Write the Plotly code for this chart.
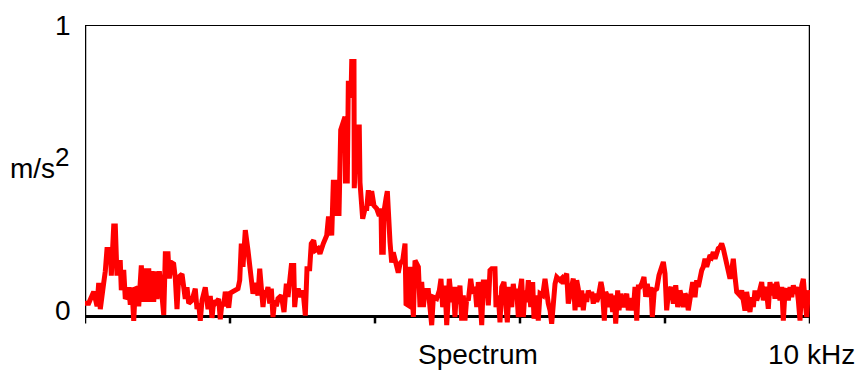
import plotly.graph_objects as go

# Frequency (kHz) and acceleration amplitude (m/s^2)
freq_khz = [
    0.000, 0.051, 0.120, 0.166, 0.189, 0.211, 0.258, 0.280, 0.303, 0.349,
    0.363, 0.396, 0.418, 0.428, 0.441, 0.455, 0.487, 0.501, 0.534, 0.556,
    0.579, 0.603, 0.625, 0.648, 0.672, 0.694, 0.717, 0.741, 0.777, 0.800,
    0.832, 0.855, 0.879, 0.901, 0.924, 0.948, 0.970, 0.993, 1.025, 1.062,
    1.086, 1.108, 1.145, 1.163, 1.190, 1.223, 1.246, 1.269, 1.292, 1.338,
    1.361, 1.383, 1.407, 1.430, 1.476, 1.521, 1.545, 1.568, 1.590, 1.614,
    1.659, 1.697, 1.728, 1.752, 1.775, 1.797, 1.844, 1.866, 1.890, 1.913,
    1.935, 1.982, 2.004,
    2.063, 2.110, 2.134, 2.156, 2.179, 2.211, 2.248, 2.272, 2.294, 2.317,
    2.349, 2.386, 2.410, 2.432, 2.455, 2.479, 2.501, 2.524, 2.548, 2.570,
    2.593, 2.617, 2.639, 2.662, 2.708, 2.745, 2.777, 2.800, 2.823, 2.846,
    2.879, 2.892, 2.914, 2.948, 2.975, 3.007, 3.039, 3.062, 3.099, 3.121,
    3.154, 3.177, 3.214,
    3.241, 3.287, 3.334, 3.356, 3.379, 3.403, 3.425, 3.448, 3.462, 3.480,
    3.503, 3.527, 3.554, 3.586, 3.593, 3.618, 3.632, 3.655, 3.669, 3.679,
    3.710, 3.714, 3.748, 3.783, 3.793, 3.817, 3.830, 3.862, 3.886, 3.908,
    3.931, 3.954, 3.986, 4.023, 4.059, 4.083, 4.092, 4.114, 4.124, 4.152,
    4.170, 4.207, 4.230, 4.252, 4.290, 4.321,
    4.345, 4.382, 4.414, 4.428, 4.460, 4.483, 4.506, 4.529, 4.552, 4.598,
    4.621, 4.644, 4.667, 4.690, 4.736, 4.759, 4.782, 4.805, 4.851, 4.887,
    4.910, 4.933, 4.966, 4.989, 5.025, 5.057, 5.080, 5.103, 5.126, 5.149,
    5.172, 5.196, 5.218, 5.241, 5.265, 5.287, 5.320, 5.347, 5.379, 5.403,
    5.425, 5.448, 5.472, 5.494, 5.541, 5.563, 5.586, 5.610, 5.655, 5.669,
    5.701, 5.724, 5.748, 5.779, 5.807, 5.825, 5.852, 5.886, 5.907, 5.931,
    5.954, 5.977, 6.000, 6.023, 6.046, 6.069, 6.092, 6.115, 6.148, 6.175,
    6.193, 6.230, 6.252, 6.276, 6.313, 6.345,
    6.390, 6.414, 6.437, 6.459, 6.483, 6.506, 6.552, 6.575, 6.597, 6.621,
    6.644, 6.666, 6.690, 6.713, 6.735, 6.759, 6.782, 6.804, 6.828, 6.851,
    6.873, 6.897, 6.920, 6.942, 6.966, 6.989, 7.011, 7.034, 7.058, 7.080,
    7.117, 7.135, 7.163, 7.182, 7.209, 7.228, 7.251, 7.278, 7.301, 7.320,
    7.347, 7.366, 7.393, 7.425, 7.448, 7.472, 7.494, 7.517, 7.541, 7.563,
    7.586, 7.610, 7.632, 7.655, 7.679, 7.710, 7.734, 7.756, 7.779, 7.807,
    7.825, 7.852, 7.886, 7.917, 7.954, 7.977, 8.000, 8.023, 8.046, 8.083,
    8.115, 8.148, 8.175, 8.207, 8.230, 8.252, 8.276, 8.299, 8.321, 8.354,
    8.382,
    8.414, 8.437, 8.459, 8.483, 8.506, 8.528, 8.552, 8.575, 8.597, 8.621,
    8.644, 8.666, 8.690, 8.713, 8.735, 8.759, 8.782, 8.804, 8.828, 8.851,
    8.873, 8.897, 8.920, 8.942, 8.966, 8.989, 9.034, 9.058, 9.080, 9.103,
    9.126, 9.149, 9.172, 9.196, 9.218, 9.241, 9.265, 9.301, 9.334, 9.356,
    9.379, 9.403, 9.425, 9.448, 9.472, 9.494, 9.517, 9.541, 9.563, 9.586,
    9.610, 9.632, 9.655, 9.679, 9.701, 9.724, 9.748, 9.770, 9.793, 9.817,
    9.839, 9.862, 9.886, 9.908, 9.931, 9.954, 9.977, 10.000,
]

accel = [
    0.045, 0.045, 0.085, 0.035, 0.115, 0.025, 0.115, 0.155, 0.230, 0.230,
    0.140, 0.310, 0.310, 0.190, 0.140, 0.185, 0.185, 0.090, 0.160, 0.060,
    0.070, 0.100, 0.040, 0.100, -0.015, 0.100, 0.095, 0.035, 0.175, 0.050,
    0.165, 0.050, 0.165, 0.050, 0.155, 0.050, 0.155, 0.060, 0.155, 0.070,
    0.005, 0.215, 0.215, 0.130, 0.185, 0.180, 0.130, 0.025, 0.135, 0.145,
    0.090, 0.060, 0.100, 0.045, 0.055, 0.095, 0.025, 0.045, -0.015, 0.055,
    0.100, 0.025, 0.070, -0.005, 0.055, 0.045, 0.060, -0.010, 0.050, 0.035,
    0.085, 0.030, 0.080,
    0.090, 0.095, 0.124, 0.250, 0.170, 0.296, 0.227, 0.170, 0.147, 0.078,
    0.115, 0.072, 0.164, 0.089, 0.032, 0.089, 0.078, 0.101, 0.044, 0.095,
    -0.002, 0.055, 0.035, 0.061, 0.072, 0.015, 0.112, 0.067, 0.135, 0.175,
    0.175, 0.032, 0.089, 0.089, 0.067, 0.089, 0.003, 0.164, 0.164, 0.250,
    0.261, 0.227, 0.233,
    0.215, 0.250, 0.278, 0.335, 0.335, 0.278, 0.460, 0.460, 0.345, 0.415,
    0.345, 0.640, 0.660, 0.685, 0.465, 0.465, 0.800, 0.800, 0.750, 0.875,
    0.875, 0.440, 0.650, 0.650, 0.460, 0.390, 0.335, 0.370, 0.370, 0.433,
    0.380, 0.430, 0.380, 0.370, 0.345, 0.370, 0.220, 0.220, 0.360, 0.405,
    0.430, 0.255, 0.185, 0.220, 0.185, 0.150,
    0.181, 0.192, 0.250, 0.043, 0.038, 0.170, 0.124, -0.002, 0.192, 0.170,
    0.032, 0.118, 0.032, 0.089, 0.089, 0.021, -0.030, 0.066, 0.061, 0.089,
    0.129, 0.032, 0.106, -0.030, 0.129, 0.049, 0.101, -0.002, 0.101, 0.043,
    0.106, -0.014, 0.072, -0.014, 0.061, 0.055, 0.129, 0.078, 0.101, 0.032,
    0.118, 0.066, -0.030, 0.118, 0.118, 0.038, 0.158, 0.164, 0.164, 0.032,
    0.072, -0.020, 0.101, 0.118, 0.055, -0.020, 0.101, 0.032, 0.112, 0.061,
    0.095, -0.002, 0.089, 0.129, -0.002, 0.089, 0.049, 0.124, 0.032, 0.118,
    -0.008, 0.072, -0.014, 0.078, 0.072, 0.129,
    0.044, 0.021, -0.025, 0.067, 0.112, 0.135, 0.124, 0.130, 0.112, 0.135,
    0.147, 0.044, 0.078, 0.112, 0.130, 0.021, 0.124, 0.095, 0.032, 0.089,
    0.021, 0.078, 0.050, 0.089, 0.067, 0.084, 0.044, 0.078, 0.050, 0.067,
    0.118, 0.095, -0.014, 0.084, 0.067, 0.032, 0.078, 0.015, 0.072, -0.025,
    0.089, 0.021, 0.078, 0.032, 0.067, 0.078, 0.021, 0.061, 0.050, 0.021,
    0.101, -0.014, 0.101, 0.101, 0.112, 0.135, 0.067, 0.112, 0.067, 0.101,
    -0.002, 0.089, 0.095, 0.141, 0.170, 0.187, 0.147, 0.021, 0.078, 0.101,
    0.044, 0.107, 0.032, 0.089, 0.067, 0.032, 0.078, 0.067, 0.021, 0.078,
    0.118,
    0.066, 0.124, 0.101, 0.141, 0.158, 0.170, 0.198, 0.170, 0.187, 0.210,
    0.204, 0.221, 0.198, 0.227, 0.233, 0.238, 0.250, 0.233, 0.210, 0.181,
    0.158, 0.129, 0.158, 0.198, 0.135, 0.084, 0.072, 0.089, 0.055, 0.020,
    0.084, 0.049, 0.015, 0.066, 0.032, 0.089, 0.055, 0.084, 0.118, 0.055,
    0.101, 0.078, 0.026, 0.118, 0.072, 0.112, 0.061, 0.118, 0.084, 0.055,
    0.101, -0.014, 0.084, 0.095, 0.055, 0.101, 0.066, 0.107, 0.078, 0.101,
    0.055, -0.014, 0.107, 0.129, 0.055, -0.002, 0.089, 0.055,
]

x_ticks = [0, 2, 4, 6, 8, 10]
y_labels = ["0", "1"]
x_label = "Spectrum"
x_end_label = "10 kHz"
y_unit = "m/s<sup><span style='font-size:26px'>2</span></sup>"

FONT = "Liberation Sans, Arial, sans-serif"

fig = go.Figure()
fig.add_trace(go.Scatter(
    x=freq_khz, y=accel, mode="lines",
    line=dict(color="#ff0000", width=5),
    hoverinfo="skip", showlegend=False,
))

shapes = []
# frame
shapes.append(dict(type="line", xref="x", yref="y", x0=0, x1=10, y0=1, y1=1,
                   line=dict(color="black", width=2), layer="below"))
shapes.append(dict(type="line", xref="x", yref="y", x0=0, x1=0, y0=-0.024, y1=1,
                   line=dict(color="black", width=2.5), layer="below"))
shapes.append(dict(type="line", xref="x", yref="y", x0=10, x1=10, y0=-0.024, y1=1,
                   line=dict(color="black", width=2.5), layer="below"))
shapes.append(dict(type="line", xref="x", yref="y", x0=0, x1=10, y0=0, y1=0,
                   line=dict(color="black", width=3), layer="below"))
for t in x_ticks[1:-1]:
    shapes.append(dict(type="line", xref="x", yref="y", x0=t, x1=t, y0=0, y1=-0.024,
                       line=dict(color="black", width=2.5), layer="below"))

font = dict(family=FONT, size=28, color="black")
annotations = [
    dict(x=-0.0297, y=1.0, xref="paper", yref="paper", text=y_labels[1], showarrow=False,
         xanchor="center", yanchor="middle", font=font),
    dict(x=-0.0297, y=0.0686, xref="paper", yref="paper", text=y_labels[0], showarrow=False,
         xanchor="center", yanchor="middle", font=font),
    dict(x=-0.1060, y=0.548, xref="paper", yref="paper", text=y_unit, showarrow=False,
         xanchor="left", yanchor="middle", font=font),
    dict(x=0.5414, y=-0.0784, xref="paper", yref="paper", text=x_label, showarrow=False,
         xanchor="center", yanchor="middle", font=font),
    dict(x=1.002, y=-0.0784, xref="paper", yref="paper", text=x_end_label, showarrow=False,
         xanchor="center", yanchor="middle", font=font),
]

fig.update_layout(
    width=864, height=374,
    margin=dict(l=85, r=54, t=25, b=43),
    paper_bgcolor="white", plot_bgcolor="white",
    shapes=shapes, annotations=annotations,
    xaxis=dict(range=[0, 10], visible=False, fixedrange=True),
    yaxis=dict(range=[-0.05, 1.0], visible=False, fixedrange=True),
)

fig.write_html("out.html")
